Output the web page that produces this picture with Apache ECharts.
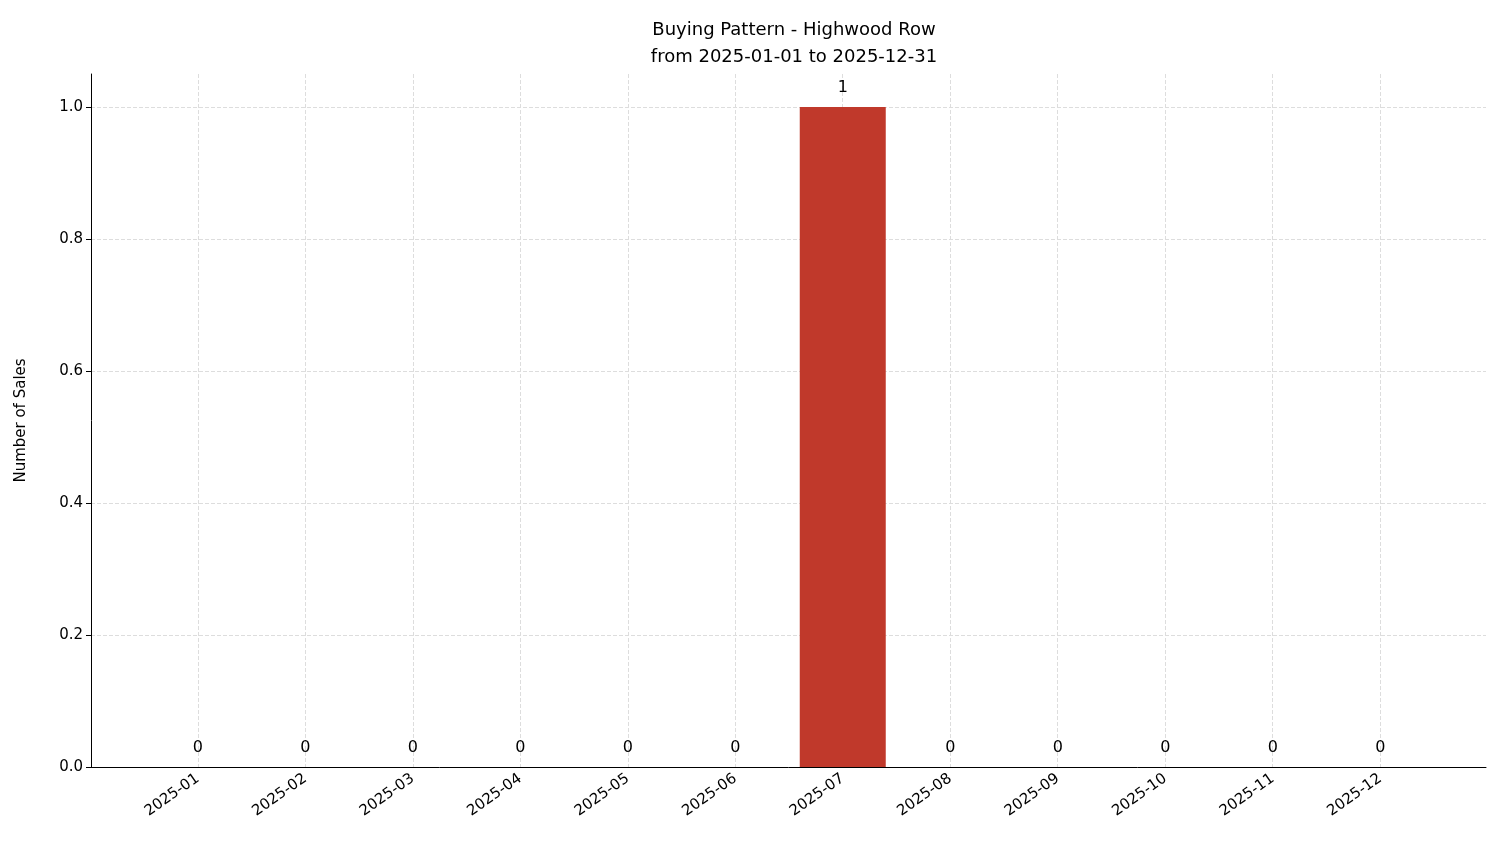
<!DOCTYPE html>
<html>
<head>
<meta charset="UTF-8">
<script src="https://cdn.jsdelivr.net/npm/echarts@6/dist/echarts.min.js"></script>
</head>
<body style="margin:0">
<div id="main" style="width:1501px;height:863px"></div>
<script>
var months = ['2025-01','2025-02','2025-03','2025-04','2025-05','2025-06','2025-07','2025-08','2025-09','2025-10','2025-11','2025-12'];
var sales = [0,0,0,0,0,0,1,0,0,0,0,0];

var chart = echarts.init(document.getElementById('main'));
var font = 'DejaVu Sans';
chart.setOption({
    animation: false,
    textStyle: {fontFamily: font},
    title: {
        text: 'Buying Pattern - Highwood Row\nfrom 2025-01-01 to 2025-12-31',
        left: 789, top: 12, textAlign: 'center',
        textStyle: {fontSize: 18, fontWeight: 'normal', color: '#000', lineHeight: 27, fontFamily: font}
    },
    grid: [
        {left: 91, right: 15, top: 74, bottom: 96},
        {left: 144, right: 67, top: 74, bottom: 96},
        {left: 198, right: 121, top: 74, bottom: 96}
    ],
    xAxis: [
        {type: 'value', gridIndex: 0, min: 0, max: 1,
         axisLine: {show: true, lineStyle: {color: '#000'}}, axisTick: {show: false},
         axisLabel: {show: false}, splitLine: {show: false}},
        {type: 'category', gridIndex: 1, data: months,
         axisLine: {show: false},
         axisTick: {alignWithLabel: true, length: 5, lineStyle: {color: '#000'}},
         axisLabel: {rotate: 35, color: '#000', fontSize: 15, margin: 10},
         splitLine: {show: false}},
        {type: 'category', gridIndex: 2, data: months, boundaryGap: false,
         axisLine: {show: false}, axisTick: {show: false}, axisLabel: {show: false},
         splitLine: {show: true, interval: 0, lineStyle: {color: '#ddd', type: 'dashed'}}}
    ],
    yAxis: [
        {type: 'value', gridIndex: 0, min: 0, max: 1.05, interval: 0.2,
         name: 'Number of Sales', nameLocation: 'middle', nameGap: 62,
         nameTextStyle: {fontSize: 15, color: '#000'},
         axisLine: {show: true, lineStyle: {color: '#000'}},
         axisTick: {show: true, length: 5},
         axisLabel: {color: '#000', fontSize: 15, showMaxLabel: false,
                     formatter: function (v) { return v.toFixed(1); }},
         splitLine: {showMaxLine: false, lineStyle: {color: '#ddd', type: 'dashed'}}},
        {type: 'value', gridIndex: 1, min: 0, max: 1.05, show: false, splitLine: {show: false}},
        {type: 'value', gridIndex: 2, min: 0, max: 1.05, show: false, splitLine: {show: false}}
    ],
    series: [{
        type: 'bar', xAxisIndex: 1, yAxisIndex: 1, data: sales,
        barWidth: 86,
        itemStyle: {color: '#c0392b'},
        label: {show: true, position: 'top', color: '#000', fontSize: 16, distance: 11}
    }]
});
</script>
</body>
</html>
